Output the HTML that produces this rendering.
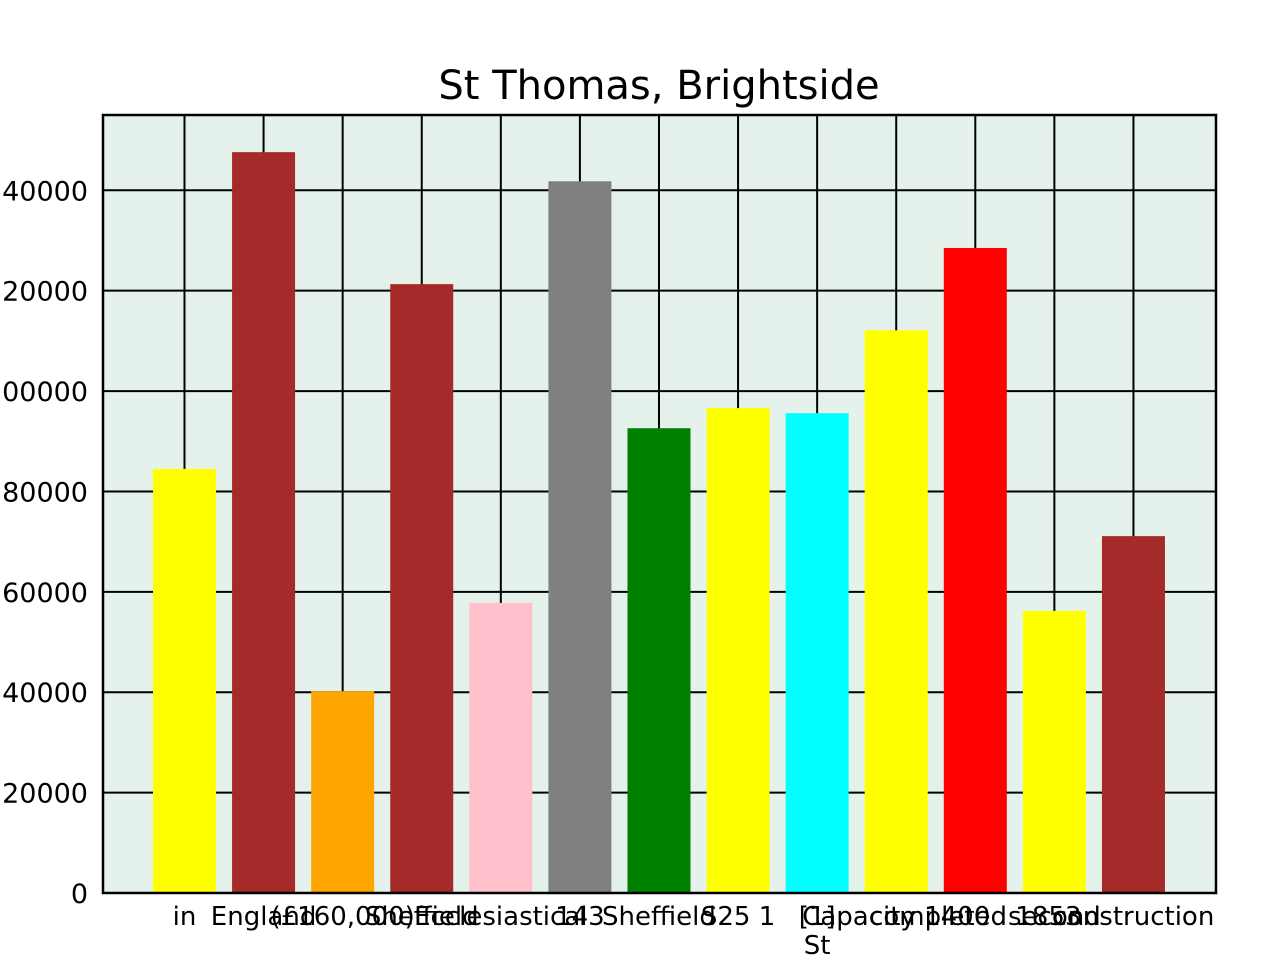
<!DOCTYPE html>
<html><head><meta charset="utf-8"><style>
body{margin:0;background:#fff;overflow:hidden;}
svg{font-family:"DejaVu Sans","Liberation Sans",sans-serif;}
</style></head><body>
<svg id="c" width="1280" height="960"></svg>
<script>
const categories=["in","England","(£160,000)","Sheffield","Ecclesiastical","143","Sheffield","S25 1","[1] St","Capacity 1400","completed 1853","second","construction"];
const values=[84500,147600,40200,121300,57800,141800,92600,96600,95600,112100,128500,56200,71100];
const colors=["yellow","brown","orange","brown","pink","gray","green","yellow","cyan","yellow","red","yellow","brown"];
const yTicks=[0,20000,40000,60000,80000,100000,120000,140000];
const L=103,R=1216,T=115,B=893,YMAX=155000;
const ns="http://www.w3.org/2000/svg";
const svg=document.getElementById('c');
function mk(t,a){const e=document.createElementNS(ns,t);for(const k in a)e.setAttribute(k,a[k]);svg.appendChild(e);return e;}
const step=79.08;
const x=i=>184.5+step*i;
const y=v=>B-(v/YMAX)*(B-T);
let bg=mk('rect',{x:L,y:T,width:R-L,height:B-T,fill:'#e5f2ec'});


categories.forEach((c,i)=>{const g=mk('line',{x1:x(i),x2:x(i),y1:T,y2:B,stroke:'#000','stroke-width':2});

});
yTicks.forEach(v=>{const g=mk('line',{x1:L,x2:R,y1:y(v),y2:y(v),stroke:'#000','stroke-width':2});


const t=mk('text',{x:L-15,y:y(v)+10,'text-anchor':'end','font-size':27});t.textContent=v;

});
values.forEach((v,i)=>{const w=63;const r=mk('rect',{x:x(i)-w/2,y:y(v),width:w,height:B-y(v),fill:colors[i]});

});
categories.forEach((c,i)=>{const parts=c==="[1] St"?["[1]","St"]:[c];
parts.forEach((p,j)=>{const t=mk('text',{x:x(i),y:925+j*29,'text-anchor':'middle','font-size':26});t.textContent=p;

});});
let fr=mk('rect',{x:L,y:T,width:R-L,height:B-T,fill:'none',stroke:'#000','stroke-width':2.5});


let ti=mk('text',{x:659,y:99,'text-anchor':'middle','font-size':40});ti.textContent="St Thomas, Brightside";


</script>
</body></html>
